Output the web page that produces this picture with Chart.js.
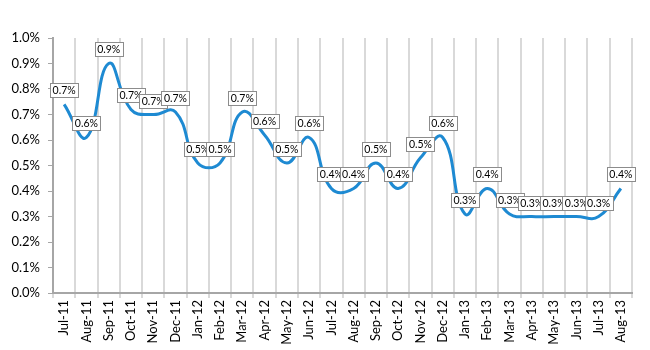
<!DOCTYPE html>
<html>
<head>
<meta charset="utf-8">
<script src="https://cdn.jsdelivr.net/npm/chart.js@4.4.0/dist/chart.umd.min.js"></script>
<style>
  html, body { margin: 0; padding: 0; background: #fff; }
  #wrap { width: 650px; height: 350px; }
</style>
</head>
<body>
<div id="wrap"><canvas id="graf"></canvas></div>
<script>
(function(){
const months = ['Jul-11', 'Aug-11', 'Sep-11', 'Oct-11', 'Nov-11', 'Dec-11',
  'Jan-12', 'Feb-12', 'Mar-12', 'Apr-12', 'May-12', 'Jun-12', 'Jul-12', 'Aug-12',
  'Sep-12', 'Oct-12', 'Nov-12', 'Dec-12', 'Jan-13', 'Feb-13', 'Mar-13', 'Apr-13',
  'May-13', 'Jun-13', 'Jul-13', 'Aug-13'];

// tasa mensual (%)
const rate = [0.74, 0.61, 0.90, 0.72, 0.70, 0.71,
  0.51, 0.51, 0.71, 0.62, 0.51, 0.61, 0.41, 0.41,
  0.51, 0.41, 0.53, 0.61, 0.31, 0.41, 0.31, 0.30,
  0.30, 0.30, 0.30, 0.41];

const yTicks = [0, 0.1, 0.2, 0.3, 0.4, 0.5, 0.6, 0.7, 0.8, 0.9, 1.0];

// etiquetas con caja encima de cada punto
const boxLabels = {
  id: 'boxLabels',
  afterDatasetsDraw(chart) {
    const ctx = chart.ctx;
    const meta = chart.getDatasetMeta(0);
    ctx.save();
    ctx.font = '10.5px Lato';
    ctx.textAlign = 'center';
    ctx.textBaseline = 'middle';
    meta.data.forEach((pt, i) => {
      const txt = rate[i].toFixed(1) + '%';
      const w = Math.round(ctx.measureText(txt).width + 5);
      const h = 14;
      const x0 = Math.round(pt.x - w / 2), y0 = Math.round(pt.y - 14 - h / 2);
      ctx.fillStyle = '#fff';
      ctx.fillRect(x0, y0, w, h);
      ctx.strokeStyle = '#8c8c8c';
      ctx.lineWidth = 1;
      ctx.strokeRect(x0 + 0.5, y0 + 0.5, w, h);
      ctx.fillStyle = '#000';
      ctx.fillText(txt, pt.x, y0 + h / 2 + 1);
    });
    ctx.restore();
  }
};

const ctx = document.getElementById('graf').getContext('2d');
new Chart(ctx, {
  type: 'line',
  data: {
    labels: months,
    datasets: [{
      data: rate,
      borderColor: '#1e8ad2',
      borderWidth: 3,
      pointRadius: 0,
      tension: 0.45,
      fill: false
    }]
  },
  options: {
    responsive: true,
    maintainAspectRatio: false,
    animation: false,
    layout: { padding: { top: 38, right: 18, left: 0, bottom: 0 } },
    scales: {
      x: {
        offset: true,
        grid: { offset: true, color: '#d9d9d9', lineWidth: 2, tickLength: 5 },
        border: { color: '#a6a6a6', width: 2 },
        ticks: {
          autoSkip: false, minRotation: 90, maxRotation: 90,
          color: '#000', font: { family: 'Lato', size: 13 }, padding: 2
        },
        afterFit: s => { s.height = 57; }
      },
      y: {
        min: 0, max: 1.0,
        afterBuildTicks: s => { s.ticks = yTicks.map(v => ({ value: v })); },
        grid: { drawOnChartArea: false, color: '#a6a6a6', tickLength: 5 },
        border: { color: '#a6a6a6', width: 2 },
        ticks: {
          color: '#000', font: { family: 'Lato', size: 13 }, padding: 8,
          callback: v => v.toFixed(1) + '%'
        },
        afterFit: s => { s.width = 53; }
      }
    },
    plugins: {
      legend: { display: false },
      tooltip: { enabled: false }
    }
  },
  plugins: [boxLabels]
});
})();
</script>
</body>
</html>
